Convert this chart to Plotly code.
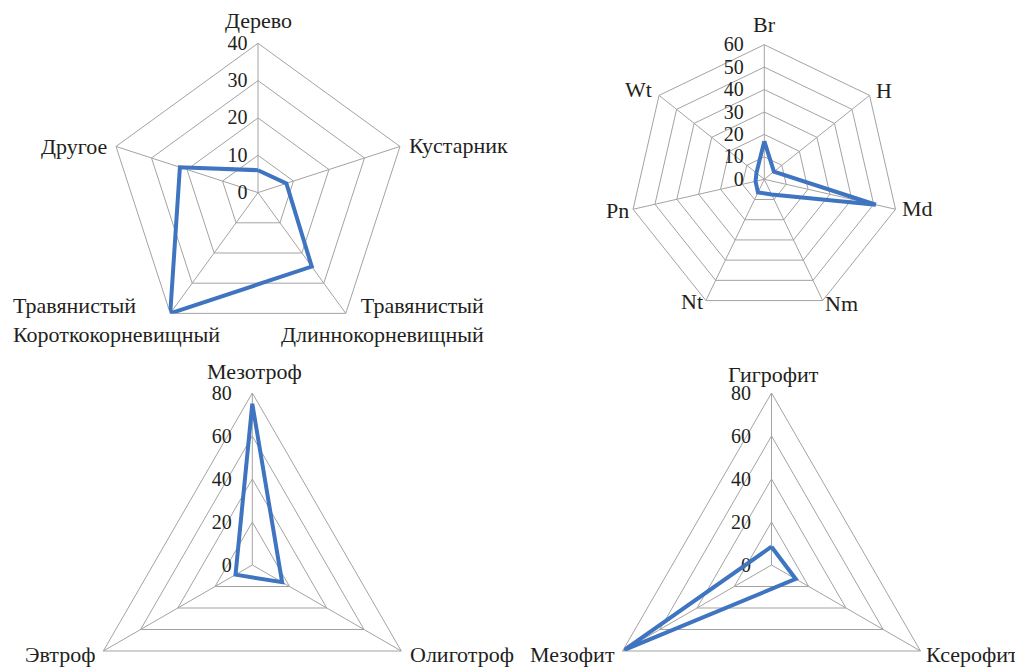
import plotly.graph_objects as go

# ---------------- data ----------------
life_cats = ["Дерево", "Кустарник", "Травянистый Длиннокорневищный",
             "Травянистый Короткокорневищный", "Другое"]
life_labels = ["Дерево", "Кустарник", "Травянистый<br>Длиннокорневищный",
               "Травянистый<br>Короткокорневищный", "Другое"]
life_values = [6, 8, 24.5, 40, 22]
life_ticks = [0, 10, 20, 30, 40]

hab_cats = ["Br", "H", "Md", "Nm", "Nt", "Pn", "Wt"]
hab_values = [17, 5.5, 51, 7.5, 6.5, 4, 4.5]
hab_ticks = [0, 10, 20, 30, 40, 50, 60]

troph_cats = ["Мезотроф", "Олиготроф", "Эвтроф"]
troph_values = [75, 16, 9]
troph_ticks = [0, 20, 40, 60, 80]

hydro_cats = ["Гигрофит", "Ксерофит", "Мезофит"]
hydro_values = [8.5, 13, 79]
hydro_ticks = [0, 20, 40, 60, 80]

# ---------------- style ----------------
OFF = 8                 # page body margin of the browser
WF, HF = 1015, 740      # figure size (bottom part falls outside the window)
LINE = "#3F74C0"
GRID = "#A3A3A3"
TXT = "#231F20"
FONT = "Liberation Serif"
FS_LAB = 22
FS_TICK = 20


def dom(cx, cy, R):
    """domain from centre / radius given in window pixels"""
    cx, cy = cx - OFF, cy - OFF
    return dict(x=[(cx - R) / WF, (cx + R) / WF],
                y=[1 - (cy + R) / HF, 1 - (cy - R) / HF])


def polar(d, ticks, cats, ticklen):
    return dict(
        domain=d,
        gridshape="linear",
        bgcolor="rgba(0,0,0,0)",
        radialaxis=dict(
            range=[0, ticks[-1]], tickvals=ticks, angle=90, side="counterclockwise",
            tickangle=90, showline=False, gridcolor=GRID, gridwidth=1,
            ticks="outside", ticklen=ticklen, tickcolor="rgba(0,0,0,0)",
            tickfont=dict(family=FONT, size=FS_TICK, color=TXT), layer="below traces",
        ),
        angularaxis=dict(
            type="category", categoryorder="array", categoryarray=cats,
            direction="clockwise", rotation=90, showticklabels=False, ticks="",
            showline=True, linecolor=GRID, linewidth=1, gridcolor=GRID, gridwidth=1,
            layer="below traces",
        ),
    )


fig = go.Figure()


def series(cats, vals, sub):
    fig.add_trace(go.Scatterpolar(
        r=list(vals) + [vals[0]], theta=list(cats) + [cats[0]], mode="lines",
        line=dict(color=LINE, width=4), subplot=sub,
        hoverinfo="skip", showlegend=False))


series(life_cats, life_values, "polar")
series(hab_cats, hab_values, "polar2")
series(troph_cats, troph_values, "polar3")
series(hydro_cats, hydro_values, "polar4")

# ---------------- category labels ----------------
ann = []


def lab(text, x, y, xa, align="left"):
    ann.append(dict(text=text, x=(x - OFF) / WF, y=1 - (y - OFF) / HF,
                    xref="paper", yref="paper",
                    xanchor=xa, yanchor="middle", align=align, showarrow=False,
                    font=dict(family=FONT, size=FS_LAB, color=TXT)))


lab(life_labels[0], 258.5, 20, "center")
lab(life_labels[1], 407, 145, "left")
lab(life_labels[2], 486, 320, "right", "right")
lab(life_labels[3], 11, 320, "left", "left")
lab(life_labels[4], 109, 146, "right")

lab(hab_cats[0], 764, 25, "center")
lab(hab_cats[1], 874, 91, "left")
lab(hab_cats[2], 900, 208, "left")
lab(hab_cats[3], 823, 303, "left")
lab(hab_cats[4], 705, 302, "right")
lab(hab_cats[5], 631, 210, "right")
lab(hab_cats[6], 654, 90, "right")

lab(troph_cats[0], 254, 371, "center")
lab(troph_cats[1], 408, 654, "left")
lab(troph_cats[2], 98, 654, "right")

lab(hydro_cats[0], 773, 374, "center")
lab(hydro_cats[1], 1020, 654, "right")
lab(hydro_cats[2], 617, 654, "right")

fig.update_layout(
    width=WF, height=HF, margin=dict(l=0, r=0, t=0, b=0),
    paper_bgcolor="white", plot_bgcolor="white", showlegend=False,
    polar=polar(dom(258, 192.6, 149.3), life_ticks, life_cats, 3),
    polar2=polar(dom(764.3, 179.3, 134.6), hab_ticks, hab_cats, 13),
    polar3=polar(dom(252.3, 565, 172), troph_ticks, troph_cats, 13),
    polar4=polar(dom(771.5, 565, 172), hydro_ticks, hydro_cats, 13),
    annotations=ann,
)

fig.write_html("out.html")
